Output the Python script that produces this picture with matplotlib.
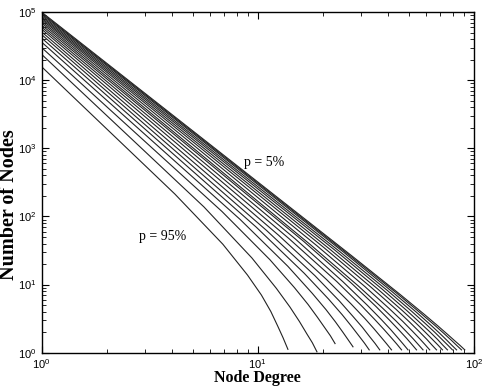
import matplotlib
matplotlib.use("Agg")
import matplotlib.pyplot as plt
from matplotlib.ticker import LogLocator, LogFormatterSciNotation, NullFormatter

plt.rcParams['mathtext.fontset'] = 'custom'
plt.rcParams['mathtext.rm'] = 'Liberation Sans'
plt.rcParams['mathtext.it'] = 'Liberation Sans:italic'
plt.rcParams['font.family'] = 'Liberation Sans'

# removal fraction p (5% ... 95%), one curve each
p_values = [5, 10, 15, 20, 25, 30, 35, 40, 45, 50, 55, 60, 65, 70, 75, 80, 85, 90, 95]

# number of nodes at degree 1
y_start = [100000, 96600, 93300, 89100, 85100, 81300, 77600, 73300, 69200, 64600,
           60300, 56200, 51300, 46800, 41700, 36300, 30200, 24000, 15800]

# points along the bending tail of each curve (degree, nodes)
tail_x = [
    [27.2, 45.4, 59.0, 68.1, 75.4, 81.7, 86.3, 90.8],
    [26.3, 43.9, 57.0, 65.8, 72.8, 78.9, 83.3, 87.7],
    [25.0, 41.6, 54.1, 62.4, 69.1, 74.9, 79.0, 83.2],
    [23.9, 39.8, 51.7, 59.7, 66.1, 71.6, 75.6, 79.6],
    [22.7, 37.8, 49.1, 56.6, 62.7, 68.0, 71.7, 75.5],
    [21.5, 35.8, 46.5, 53.7, 59.4, 64.4, 68.0, 71.6],
    [20.2, 33.6, 43.7, 50.4, 55.8, 60.5, 63.8, 67.2],
    [18.8, 31.3, 40.6, 46.9, 51.9, 56.3, 59.4, 62.5],
    [17.5, 29.1, 37.8, 43.7, 48.3, 52.4, 55.3, 58.2],
    [16.3, 27.2, 35.3, 40.7, 45.1, 48.9, 51.6, 54.3],
    [14.9, 24.8, 32.2, 37.2, 41.2, 44.6, 47.1, 49.6],
    [13.9, 23.2, 30.1, 34.7, 38.4, 41.7, 44.0, 46.3],
    [12.5, 20.8, 27.0, 31.2, 34.5, 37.4, 39.5, 41.6],
    [11.0, 18.4, 23.9, 27.5, 30.5, 33.0, 34.9, 36.7],
    [9.84, 16.4, 21.3, 24.6, 27.2, 29.5, 31.2, 32.8],
    [8.28, 13.8, 17.9, 20.7, 22.9, 24.8, 26.2, 27.6],
    [6.84, 11.4, 14.8, 17.1, 18.9, 20.5, 21.7, 22.8],
    [5.64, 9.40, 12.2, 14.1, 15.6, 16.9, 17.9, 18.8],
    [4.14, 6.90, 8.97, 10.4, 11.5, 12.4, 13.1, 13.8],
]
tail_y = [
    [26.5, 7.24, 3.65, 2.48, 1.87, 1.49, 1.28, 1.10],
    [27.6, 7.50, 3.75, 2.54, 1.91, 1.51, 1.28, 1.10],
    [29.8, 8.00, 3.95, 2.64, 1.96, 1.53, 1.29, 1.10],
    [30.7, 8.19, 4.02, 2.67, 1.98, 1.54, 1.30, 1.10],
    [32.2, 8.47, 4.12, 2.72, 2.01, 1.56, 1.30, 1.10],
    [33.3, 8.68, 4.20, 2.76, 2.02, 1.56, 1.31, 1.10],
    [35.1, 9.03, 4.32, 2.82, 2.05, 1.58, 1.31, 1.10],
    [37.1, 9.37, 4.44, 2.88, 2.08, 1.59, 1.32, 1.10],
    [38.7, 9.63, 4.52, 2.91, 2.10, 1.60, 1.32, 1.10],
    [43.2, 10.4, 4.75, 3.01, 2.14, 1.62, 1.33, 1.10],
    [47.0, 11.0, 4.95, 3.10, 2.19, 1.64, 1.34, 1.10],
    [47.8, 11.1, 4.95, 3.10, 2.19, 1.63, 1.34, 1.10],
    [52.9, 11.9, 5.22, 3.22, 2.25, 1.66, 1.35, 1.10],
    [62.1, 13.5, 5.72, 3.45, 2.36, 1.71, 1.37, 1.10],
    [69.8, 14.7, 6.10, 3.61, 2.43, 1.74, 1.38, 1.10],
    [90.8, 18.5, 7.41, 4.29, 2.83, 1.99, 1.55, 1.22],
    [118, 23.1, 9.00, 5.11, 3.31, 2.29, 1.77, 1.36],
    [138, 24.6, 8.80, 4.68, 2.87, 1.88, 1.40, 1.03],
    [213, 39.1, 13.8, 7.03, 4.03, 2.43, 1.66, 1.12],
]

fig = plt.figure(figsize=(4.85, 3.88), dpi=100)
ax = fig.add_axes([0.0856, 0.091, 0.8914, 0.878])

for i in range(len(p_values)):
    xs = [1] + tail_x[i]
    ys = [y_start[i]] + tail_y[i]
    ax.plot(xs, ys, color='#222222', lw=0.8)

ax.set_xscale('log')
ax.set_yscale('log')
ax.set_xlim(1, 100)
ax.set_ylim(1, 1e5)

ax.xaxis.set_major_locator(LogLocator(base=10, numticks=10))
ax.yaxis.set_major_locator(LogLocator(base=10, numticks=10))
ax.xaxis.set_minor_locator(LogLocator(base=10, subs=range(2, 10), numticks=20))
ax.yaxis.set_minor_locator(LogLocator(base=10, subs=range(2, 10), numticks=20))
ax.xaxis.set_major_formatter(LogFormatterSciNotation())
ax.yaxis.set_major_formatter(LogFormatterSciNotation())
ax.xaxis.set_minor_formatter(NullFormatter())
ax.yaxis.set_minor_formatter(NullFormatter())
ax.tick_params(which='both', direction='in', top=True, right=True, labelsize=8)
ax.tick_params(which='major', length=5, width=0.8)
ax.tick_params(which='minor', length=3, width=0.6)
for s in ax.spines.values():
    s.set_linewidth(1.0)

ax.set_xlabel('Node Degree', family='Liberation Serif', fontweight='bold', fontsize=11.5)
ax.set_ylabel('Number of Nodes', family='Liberation Serif', fontweight='bold', fontsize=14.5)
ax.xaxis.set_label_coords(0.5, -0.052)
ax.yaxis.set_label_coords(-0.051, 0.436)

ax.text(10.7, 611, 'p = 5%', family='Liberation Serif', fontsize=10, ha='center', va='center')
ax.text(3.65, 50, 'p = 95%', family='Liberation Serif', fontsize=10, ha='center', va='center')

plt.savefig('out.png', dpi=100)
